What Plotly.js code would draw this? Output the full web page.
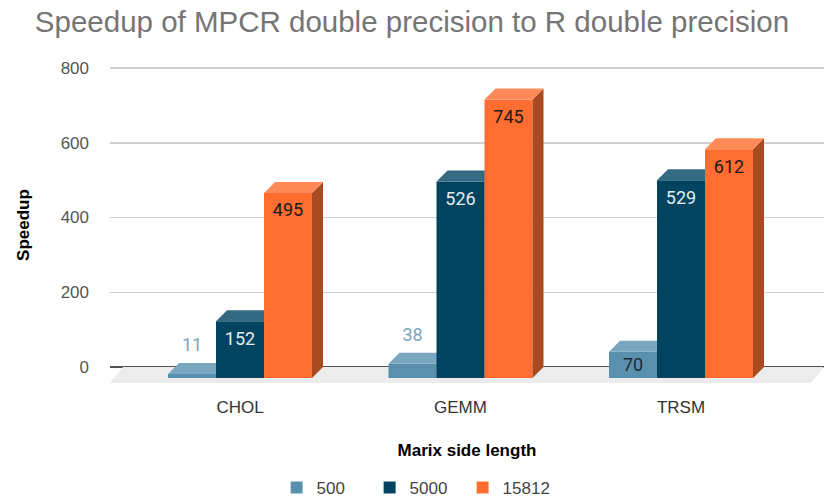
<!DOCTYPE html>
<html>
<head>
<meta charset="utf-8">
<script src="https://cdn.plot.ly/plotly-3.0.1.min.js"></script>
<style>html,body{margin:0;padding:0;background:#fff;}#chart{width:824px;height:500px;}</style>
</head>
<body>
<div id="chart"></div>
<script>
// ---- data ----
const categories = ['CHOL', 'GEMM', 'TRSM'];
const seriesNames = ['500', '5000', '15812'];
const values500 = [11, 38, 70];
const values5000 = [152, 526, 529];
const values15812 = [495, 745, 612];
const yTickVals = [0, 200, 400, 600, 800];

// ---- styling ----
const frontColors = ['#5990ad', '#02445f', '#ff6d31'];
const topColors = ['#79a7c0', '#346b83', '#ff8a58'];
const sideColors = ['#3d6a82', '#01344a', '#a94a20'];
const labelInside = ['#1f2a30', '#e4ecf1', '#1a1a1a'];
const labelOutside = ['#7aa6bf', '#4c7890', '#a94a20'];

// layout geometry (pixels)
const W = 824, H = 500;
const M = {l: 110, r: 0, t: 55, b: 105};
const pxPerX = 220.5;          // pixels per category step
const pxPerY = 0.37375;        // pixels per value unit
const zeroPx = 367, firstCatPx = 240;
const xRange = [(M.l - firstCatPx) / pxPerX, (W - M.r - firstCatPx) / pxPerX];
const yRange = [-(H - M.b - zeroPx) / pxPerY, (zeroPx - M.t) / pxPerY];
const barW = 48 / pxPerX;
const depthX = 11 / pxPerX, depthY = 11 / pxPerY;
const floorX = 13 / pxPerX, floorY = 16 / pxPerY;

const allValues = [values500, values5000, values15812];
const traces = [];

// floor (base subplot, below all bars)
traces.push({
  type: 'scatter', mode: 'none', fill: 'toself', fillcolor: '#ececec',
  x: [xRange[0] + floorX, xRange[1], xRange[1] - floorX, xRange[0], xRange[0] + floorX],
  y: [0, 0, -floorY, -floorY, 0],
  hoverinfo: 'skip', showlegend: false, xaxis: 'x', yaxis: 'y'
});

const labX = [], labY = [], labT = [], labC = [];

allValues.forEach((vals, s) => {
  const ax = String(s + 2);
  const xs = categories.map((c, i) => i + (s - 1) * barW);
  // front faces
  traces.push({
    type: 'bar', name: seriesNames[s], x: xs, y: vals, base: -depthY, width: barW,
    marker: {color: frontColors[s], line: {width: 0}},
    xaxis: 'x' + ax, yaxis: 'y' + ax, hoverinfo: 'skip', legendrank: s
  });
  const topX = [], topY = [], sideX = [], sideY = [];
  vals.forEach((v, i) => {
    const xl = xs[i] - barW / 2, xr = xs[i] + barW / 2;
    topX.push(xl, xr, xr + depthX, xl + depthX, xl, null);
    topY.push(v - depthY, v - depthY, v, v, v - depthY, null);
    sideX.push(xr, xr + depthX, xr + depthX, xr, xr, null);
    sideY.push(v - depthY, v, 0, -depthY, v - depthY, null);
    const facePx = v * pxPerY;
    if (facePx < 20) {
      labX.push(xs[i]); labY.push(v + 16 / pxPerY); labC.push(labelOutside[s]);
    } else {
      labX.push(xs[i]); labY.push(v - depthY - Math.min(19, facePx / 2 + 2) / pxPerY); labC.push(labelInside[s]);
    }
    labT.push(String(v));
  });
  traces.push({type: 'scatter', mode: 'none', fill: 'toself', fillcolor: sideColors[s],
    x: sideX, y: sideY, hoverinfo: 'skip', showlegend: false, xaxis: 'x' + ax, yaxis: 'y' + ax});
  traces.push({type: 'scatter', mode: 'none', fill: 'toself', fillcolor: topColors[s],
    x: topX, y: topY, hoverinfo: 'skip', showlegend: false, xaxis: 'x' + ax, yaxis: 'y' + ax});
});

traces.push({
  type: 'scatter', mode: 'text', x: labX, y: labY, text: labT,
  textposition: 'middle center',
  textfont: {family: 'Roboto, sans-serif', size: 18, color: labC},
  hoverinfo: 'skip', showlegend: false, xaxis: 'x4', yaxis: 'y4', cliponaxis: false
});

const hidden = (over) => ({overlaying: over, visible: false, showgrid: false, zeroline: false, fixedrange: true, autorange: false});

const baseFont = 'Liberation Sans, Arial, sans-serif';
const layout = {
  width: W, height: H,
  margin: M,
  paper_bgcolor: '#ffffff', plot_bgcolor: '#ffffff',
  font: {family: baseFont, color: '#444444', size: 17},
  barmode: 'overlay',
  title: {
    text: 'Speedup of MPCR double precision to R double precision',
    font: {family: baseFont, size: 29.5, color: '#757575'},
    x: 0.5, xanchor: 'center', xref: 'container',
    y: 0.956, yanchor: 'middle', yref: 'container'
  },
  xaxis: {
    range: xRange, autorange: false, fixedrange: true,
    tickvals: categories.map((c, i) => i), ticktext: categories,
    showgrid: false, zeroline: false, showline: false, ticks: '',
    tickfont: {family: baseFont, size: 17, color: '#333333'},
    title: {text: 'Marix side length', font: {family: baseFont, size: 17, color: '#000000', weight: 'bold'}, standoff: 28}
  },
  yaxis: {
    range: yRange, autorange: false, fixedrange: true,
    tickvals: yTickVals, ticktext: yTickVals.map(String),
    showgrid: true, gridcolor: '#d0d0d0', gridwidth: 1.5,
    zeroline: true, zerolinecolor: '#555555', zerolinewidth: 1.5,
    showline: false, ticks: '', ticklabelstandoff: 20,
    tickfont: {family: baseFont, size: 17, color: '#555555'},
    title: {text: 'Speedup', font: {family: baseFont, size: 17, color: '#000000', weight: 'bold'}, standoff: 26}
  },
  xaxis2: Object.assign({range: xRange, anchor: 'y2'}, hidden('x')),
  yaxis2: Object.assign({range: yRange, anchor: 'x2'}, hidden('y')),
  xaxis3: Object.assign({range: xRange, anchor: 'y3'}, hidden('x')),
  yaxis3: Object.assign({range: yRange, anchor: 'x3'}, hidden('y')),
  xaxis4: Object.assign({range: xRange, anchor: 'y4'}, hidden('x')),
  yaxis4: Object.assign({range: yRange, anchor: 'x4'}, hidden('y')),
  showlegend: true,
  legend: {
    orientation: 'h', xref: 'container', yref: 'container',
    x: 0.505, xanchor: 'center', y: 0.024, yanchor: 'middle',
    font: {family: baseFont, size: 17, color: '#444444'},
    entrywidth: 48, entrywidthmode: 'pixels',
    traceorder: 'normal'
  }
};

Plotly.newPlot('chart', traces, layout, {displayModeBar: false, staticPlot: true});
</script>
</body>
</html>
